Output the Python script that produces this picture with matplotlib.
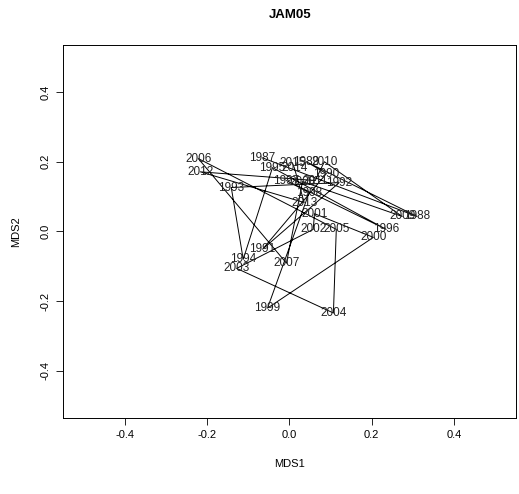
import matplotlib.pyplot as plt

plt.rcParams['font.family'] = ['Liberation Sans', 'DejaVu Sans']

# MDS coordinates per year
years = list(range(1987, 2016))
mds1 = [-0.065, 0.310, 0.041, 0.090, -0.065, 0.121, -0.141, -0.112, -0.041, 0.235,
        -0.007, 0.048, -0.053, 0.204, 0.061, 0.058, -0.128, 0.107, 0.114, -0.221,
        -0.007, 0.032, 0.274, 0.085, 0.063, -0.216, 0.036, 0.012, 0.007]
mds2 = [0.211, 0.043, 0.200, 0.166, -0.051, 0.140, 0.126, -0.080, 0.183, 0.006,
        0.146, 0.111, -0.220, -0.017, 0.051, 0.006, -0.106, -0.234, 0.006, 0.209,
        -0.091, 0.143, 0.043, 0.200, 0.146, 0.171, 0.083, 0.183, 0.197]
ticks = [-0.4, -0.2, 0.0, 0.2, 0.4]

fig = plt.figure(figsize=(5.19, 4.94), dpi=100)
ax = fig.add_axes([0.121, 0.154, 0.873, 0.755])

ax.plot(mds1, mds2, color="black", linewidth=0.7)
for yr, x, y in zip(years, mds1, mds2):
    ax.text(x, y, str(yr), fontsize=8.5, ha="center", va="center", color="#222222")

ax.set_xlim(-0.55, 0.55)
ax.set_ylim(-0.535, 0.535)
ax.set_xticks(ticks)
ax.set_yticks(ticks)
ax.set_xticklabels(["%.1f" % t for t in ticks], fontsize=8)
ax.set_yticklabels(["%.1f" % t for t in ticks], fontsize=8, rotation=90, va="center")
ax.tick_params(direction="out", length=5, width=0.6)
for s in ax.spines.values():
    s.set_linewidth(0.7)

ax.set_xlabel("MDS1", fontsize=8, labelpad=14)
ax.set_ylabel("MDS2", fontsize=8, labelpad=14)
fig.text(0.559, 0.97, "JAM05", fontsize=9.5, fontweight="bold", ha="center", va="center")

fig.savefig("out.png", dpi=100)
